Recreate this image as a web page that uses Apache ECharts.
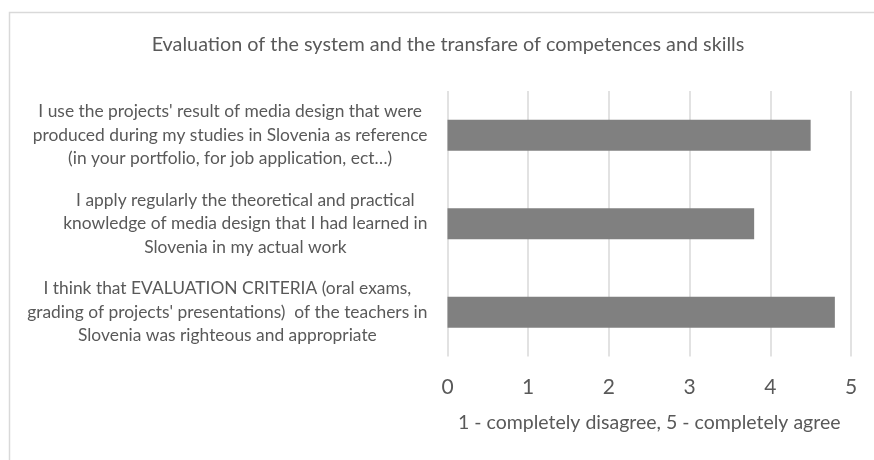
<!DOCTYPE html>
<html>
<head>
<meta charset="utf-8">
<script src="https://cdn.jsdelivr.net/npm/echarts@6/dist/echarts.min.js"></script>
<style>
  html, body { margin: 0; padding: 0; background: #ffffff; }
  #chart { width: 874px; height: 460px; }
</style>
</head>
<body>
<div id="chart"></div>
<script>
const titleText = 'Evaluation of the system and the transfare of competences and skills'
const axisTitle = '1 - completely disagree, 5 - completely agree'
const categories = [
  "I use the projects' result of media design that were\nproduced during my studies in Slovenia as reference\n(in your portfolio, for job application, ect\u2026)",
  'I apply regularly the theoretical and practical\nknowledge of media design that I had learned in\nSlovenia in my actual work',
  "I think that EVALUATION CRITERIA (oral exams,\ngrading of projects' presentations)  of the teachers in\nSlovenia was righteous and appropriate"
]
const values = [4.5, 3.8, 4.8]
const xMin = 0
const xMax = 5

const textColor = '#595959'
const fontName = 'Lato'

var chartDom = document.getElementById('chart')
var myChart = echarts.init(chartDom)
var option

option = {
  animation: false,
  textStyle: { fontFamily: fontName },
  title: {
    text: titleText,
    left: 448,
    top: 35,
    textAlign: 'center',
    padding: 0,
    textStyle: {
      color: textColor,
      fontSize: 19.8,
      fontWeight: 'normal',
      fontFamily: fontName
    }
  },
  graphic: [
    {
      type: 'rect',
      shape: { x: 9.5, y: 12.5, width: 900, height: 500 },
      style: { fill: 'none', stroke: '#d9d9d9', lineWidth: 1.5 },
      silent: true
    }
  ],
  grid: {
    left: 447.5,
    right: 23,
    top: 91,
    bottom: 103.5,
    containLabel: false
  },
  xAxis: {
    type: 'value',
    min: xMin,
    max: xMax,
    interval: 1,
    name: axisTitle,
    nameLocation: 'middle',
    nameGap: 56,
    nameTextStyle: { color: textColor, fontSize: 19.5, fontFamily: fontName },
    axisLine: { show: false },
    axisTick: { show: false },
    axisLabel: { color: textColor, fontSize: 21, margin: 20, fontFamily: fontName },
    splitLine: { show: true, lineStyle: { color: '#d9d9d9', width: 1.5 } }
  },
  yAxis: {
    type: 'category',
    inverse: true,
    data: categories,
    axisLine: { show: false },
    axisTick: { show: false },
    axisLabel: {
      margin: 20,
      align: 'right',
      formatter: function (value) {
        return value.split('\n').map(function (line) {
          return '{l|' + line + '}'
        }).join('\n')
      },
      rich: {
        l: {
          align: 'center',
          color: textColor,
          fontSize: 17.4,
          lineHeight: 23.5,
          fontFamily: fontName
        }
      }
    }
  },
  series: [
    {
      type: 'bar',
      data: values,
      barWidth: 31,
      itemStyle: { color: '#808080' },
      silent: true
    }
  ]
}

option && myChart.setOption(option)
</script>
</body>
</html>
